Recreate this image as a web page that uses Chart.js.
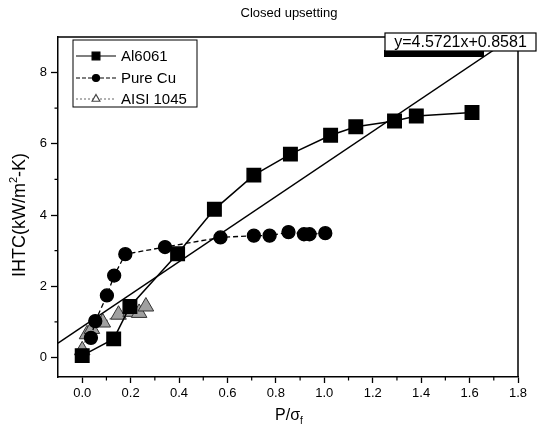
<!DOCTYPE html>
<html>
<head>
<meta charset="utf-8">
<script src="https://cdn.jsdelivr.net/npm/chart.js@4.4.0/dist/chart.umd.min.js"></script>
<style>
  html, body { margin: 0; padding: 0; background: #fff; }
</style>
</head>
<body>
<canvas id="ihtc_chart" width="540" height="431"></canvas>
<script>
"use strict";

// values
const al6061X = [0.0, 0.13, 0.197, 0.394, 0.546, 0.709, 0.86, 1.026, 1.13, 1.29, 1.38, 1.61];
const al6061Y = [0.05, 0.52, 1.43, 2.91, 4.16, 5.12, 5.71, 6.24, 6.48, 6.64, 6.78, 6.88];

const pureCuX = [0.036, 0.054, 0.102, 0.132, 0.178, 0.342, 0.571, 0.709, 0.774, 0.852, 0.916, 0.939, 1.004];
const pureCuY = [0.55, 1.02, 1.74, 2.30, 2.90, 3.10, 3.37, 3.42, 3.42, 3.52, 3.46, 3.46, 3.49];

const aisi1045X = [0.0, 0.02, 0.04, 0.085, 0.15, 0.2, 0.235, 0.263];
const aisi1045Y = [0.2, 0.65, 0.8, 0.98, 1.2, 1.28, 1.25, 1.43];

// linear fit y=4.5721x+0.8581, end points
const fitX = [-0.1, 1.78];
const fitY = [0.40, 9.0];

const xTicks = [0.0, 0.2, 0.4, 0.6, 0.8, 1.0, 1.2, 1.4, 1.6, 1.8];
const xMinorTicks = [0.1, 0.3, 0.5, 0.7, 0.9, 1.1, 1.3, 1.5, 1.7];
const yTicks = [0, 2, 4, 6, 8];
const yMinorTicks = [1, 3, 5, 7];

const FONT = "'Liberation Sans', Arial, sans-serif";

function toPoints(xs, ys) {
  return xs.map((x, i) => ({ x: x, y: ys[i] }));
}

const legendItems = [
  { label: "Al6061", style: "rect", radius: 5.5, fill: "#000", stroke: "#000", dash: [], color: "#000" },
  { label: "Pure Cu", style: "circle", radius: 3.5, fill: "#000", stroke: "#000", dash: [4, 2], color: "#000" },
  { label: "AISI 1045", style: "triangle", radius: 4.5, fill: "#fff", stroke: "#444", dash: [2, 2], color: "#666" }
];

const extrasPlugin = {
  id: "extras",
  afterDraw(chart) {
    const ctx = chart.ctx;
    const area = chart.chartArea;
    const xs = chart.scales.x;
    const ys = chart.scales.y;
    ctx.save();

    // frame top and right
    ctx.strokeStyle = "#000";
    ctx.lineWidth = 1.5;
    ctx.beginPath();
    ctx.moveTo(area.left, area.top);
    ctx.lineTo(area.right, area.top);
    ctx.lineTo(area.right, area.bottom);
    ctx.stroke();

    // minor ticks
    ctx.lineWidth = 1.2;
    ctx.beginPath();
    xMinorTicks.forEach(v => {
      const px = xs.getPixelForValue(v);
      ctx.moveTo(px, area.bottom);
      ctx.lineTo(px, area.bottom + 3.5);
    });
    yMinorTicks.forEach(v => {
      const py = ys.getPixelForValue(v);
      ctx.moveTo(area.left, py);
      ctx.lineTo(area.left - 3.5, py);
    });
    ctx.stroke();

    ctx.fillStyle = "#000";

    // title
    ctx.font = "13px " + FONT;
    ctx.textAlign = "center";
    ctx.textBaseline = "middle";
    ctx.fillText("Closed upsetting", 289, 13);

    // x title P/σf
    ctx.font = "16px " + FONT;
    ctx.textAlign = "left";
    ctx.textBaseline = "alphabetic";
    const main = "P/\u03c3";
    const mw = ctx.measureText(main).width;
    ctx.font = "10px " + FONT;
    const sw = ctx.measureText("f").width;
    let sx = 289 - (mw + sw) / 2;
    ctx.font = "16px " + FONT;
    ctx.fillText(main, sx, 420);
    ctx.font = "10px " + FONT;
    ctx.fillText("f", sx + mw, 424);

    // y title IHTC(kW/m²-K)
    ctx.save();
    ctx.translate(25, 215);
    ctx.rotate(-Math.PI / 2);
    ctx.font = "18px " + FONT;
    const p1 = "IHTC(kW/m";
    const p2 = "-K)";
    const w1 = ctx.measureText(p1).width;
    const w3 = ctx.measureText(p2).width;
    ctx.font = "11px " + FONT;
    const w2 = ctx.measureText("2").width;
    let tx = -(w1 + w2 + w3) / 2;
    ctx.font = "18px " + FONT;
    ctx.fillText(p1, tx, 0);
    ctx.font = "11px " + FONT;
    ctx.fillText("2", tx + w1, -8);
    ctx.font = "18px " + FONT;
    ctx.fillText(p2, tx + w1 + w2, 0);
    ctx.restore();

    // legend box
    ctx.fillStyle = "#fff";
    ctx.fillRect(73, 40, 124, 67);
    ctx.strokeStyle = "#000";
    ctx.lineWidth = 1;
    ctx.strokeRect(73, 40, 124, 67);
    const rowsY = [56, 78, 99];
    legendItems.forEach((item, i) => {
      const y = rowsY[i];
      ctx.strokeStyle = item.color;
      ctx.lineWidth = 1.2;
      ctx.setLineDash(item.dash);
      ctx.beginPath();
      ctx.moveTo(76, y);
      ctx.lineTo(116, y);
      ctx.stroke();
      ctx.setLineDash([]);
      ctx.fillStyle = item.fill;
      ctx.strokeStyle = item.stroke;
      Chart.helpers.drawPoint(ctx, {
        pointStyle: item.style,
        radius: item.radius,
        rotation: 0,
        borderWidth: 1
      }, 96, y);
      ctx.fillStyle = "#000";
      ctx.font = "15px " + FONT;
      ctx.textAlign = "left";
      ctx.textBaseline = "middle";
      ctx.fillText(item.label, 121, y + 1);
    });

    // equation box with shadow
    ctx.fillStyle = "#000";
    ctx.fillRect(384, 50, 100, 7);
    ctx.fillStyle = "#fff";
    ctx.fillRect(385, 33, 151, 18);
    ctx.strokeStyle = "#000";
    ctx.lineWidth = 1.2;
    ctx.strokeRect(385, 33, 151, 18);
    ctx.fillStyle = "#000";
    ctx.font = "16px " + FONT;
    ctx.textAlign = "center";
    ctx.textBaseline = "middle";
    ctx.fillText("y=4.5721x+0.8581", 460.5, 42.5);

    ctx.restore();
  }
};

const ctx1 = document.getElementById("ihtc_chart").getContext("2d");
const ihtcChart = new Chart(ctx1, {
  type: "scatter",
  data: {
    datasets: [
      {
        label: "fit",
        data: toPoints(fitX, fitY),
        showLine: true,
        borderColor: "#000",
        borderWidth: 1.5,
        pointRadius: 0
      },
      {
        label: "Pure Cu",
        data: toPoints(pureCuX, pureCuY),
        showLine: true,
        borderColor: "#000",
        borderWidth: 1.3,
        borderDash: [5, 3],
        pointStyle: "circle",
        pointRadius: 6.5,
        pointBackgroundColor: "#000",
        pointBorderColor: "#000"
      },
      {
        label: "Al6061",
        data: toPoints(al6061X, al6061Y),
        showLine: true,
        borderColor: "#000",
        borderWidth: 1.5,
        pointStyle: "rect",
        pointRadius: 9.5,
        pointBackgroundColor: "#000",
        pointBorderColor: "#000"
      },
      {
        label: "AISI 1045",
        data: toPoints(aisi1045X, aisi1045Y),
        showLine: true,
        borderColor: "#777",
        borderWidth: 1.2,
        borderDash: [2, 2],
        pointStyle: "triangle",
        pointRadius: 9,
        pointBackgroundColor: "#a0a0a0",
        pointBorderColor: "#333",
        pointBorderWidth: 1
      }
    ]
  },
  options: {
    responsive: false,
    animation: false,
    layout: { padding: { top: 37, right: 22, left: 0, bottom: 0 } },
    plugins: {
      legend: { display: false },
      title: { display: false },
      tooltip: { enabled: false }
    },
    scales: {
      x: {
        type: "linear",
        min: -0.1,
        max: 1.8,
        bounds: "data",
        afterBuildTicks: scale => {
          scale.ticks = xTicks.map(v => ({ value: v }));
        },
        afterFit: scale => { scale.height = 54; },
        ticks: {
          autoSkip: false,
          maxRotation: 0,
          padding: 3,
          color: "#000",
          font: { family: FONT, size: 13 },
          callback: v => Number(v).toFixed(1)
        },
        grid: {
          drawOnChartArea: false,
          tickLength: 6,
          tickColor: "#000",
          tickWidth: 1.3
        },
        border: { display: true, color: "#000", width: 1.5 }
      },
      y: {
        type: "linear",
        min: -0.55,
        max: 9.0,
        bounds: "data",
        afterBuildTicks: scale => {
          scale.ticks = yTicks.map(v => ({ value: v }));
        },
        afterFit: scale => { scale.width = 58; },
        ticks: {
          autoSkip: false,
          padding: 4,
          color: "#000",
          font: { family: FONT, size: 13 },
          callback: v => String(v)
        },
        grid: {
          drawOnChartArea: false,
          tickLength: 7,
          tickColor: "#000",
          tickWidth: 1.3
        },
        border: { display: true, color: "#000", width: 1.5 }
      }
    }
  },
  plugins: [extrasPlugin]
});
</script>
</body>
</html>
